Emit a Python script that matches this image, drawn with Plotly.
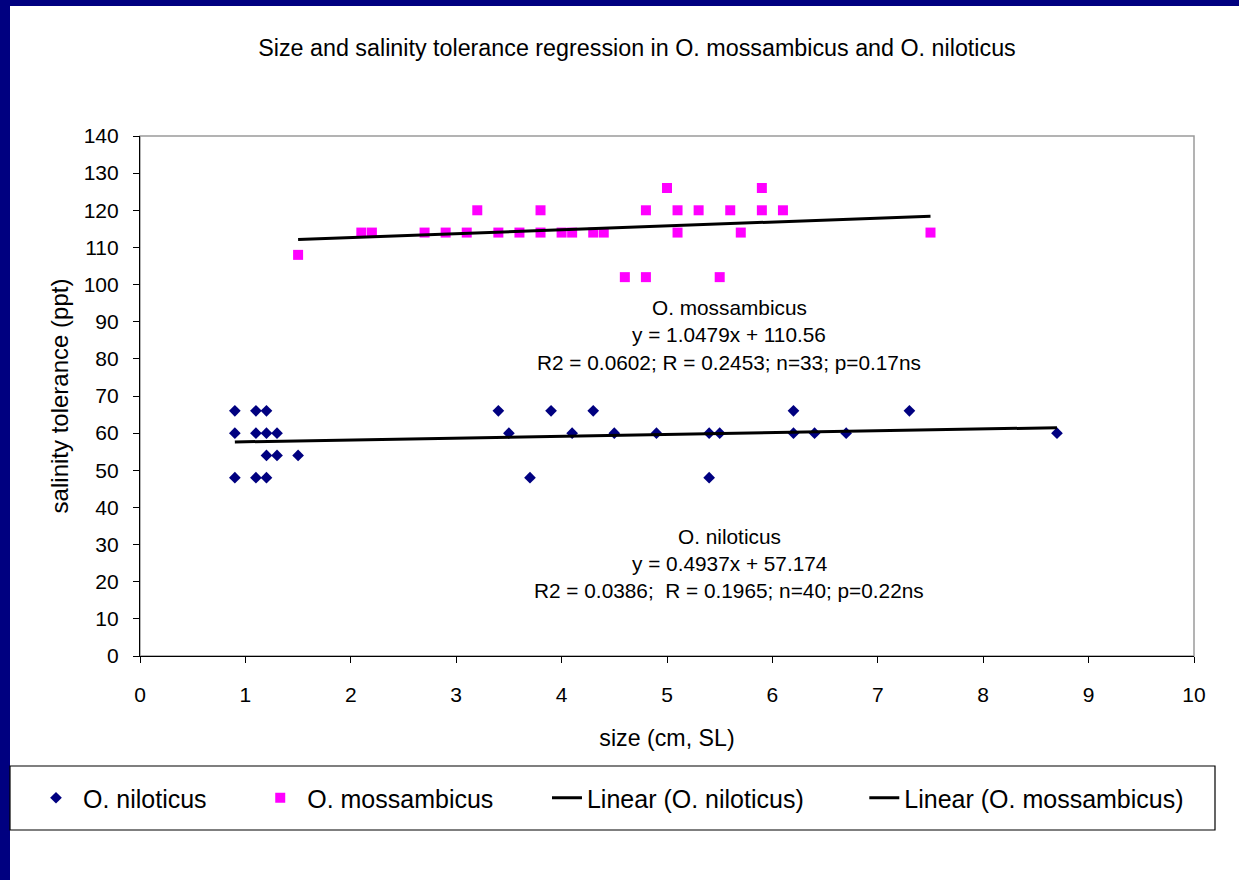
import numpy as np
import plotly.graph_objects as go

# ---------------- data ----------------
nil_size = [0.9, 0.9, 0.9, 1.1, 1.1, 1.1, 1.2, 1.2, 1.2, 1.2, 1.3, 1.3, 1.5,
            3.4, 3.5, 3.7, 3.9, 4.1, 4.3, 4.5, 4.9, 5.4, 5.4, 5.5,
            6.2, 6.2, 6.4, 6.7, 7.3, 8.7]
nil_sal = [66, 60, 48, 66, 60, 48, 66, 60, 54, 48, 60, 54, 54,
           66, 60, 48, 66, 60, 66, 60, 60, 60, 48, 60,
           66, 60, 60, 60, 66, 60]

moz_size = [1.5, 2.1, 2.2, 2.7, 2.9, 3.1, 3.2, 3.4, 3.6, 3.8, 3.8, 4.0, 4.1,
            4.3, 4.4, 4.6, 4.8, 4.8, 5.0, 5.1, 5.1, 5.3, 5.5, 5.6, 5.7,
            5.9, 5.9, 6.1, 7.5]
moz_sal = [108, 114, 114, 114, 114, 114, 120, 114, 114, 114, 120, 114, 114,
           114, 114, 102, 120, 102, 126, 120, 114, 120, 102, 120, 114,
           126, 120, 120, 114]

nil_slope, nil_intercept = 0.4937, 57.174
moz_slope, moz_intercept = 1.0479, 110.56

series_names = ["O. niloticus", "O. mossambicus",
                "Linear (O. niloticus)", "Linear (O. mossambicus)"]

moz_label = ["O. mossambicus", "y = 1.0479x + 110.56",
             "R2 = 0.0602; R = 0.2453; n=33; p=0.17ns"]
nil_label = ["O. niloticus", "y = 0.4937x + 57.174",
             "R2 = 0.0386;\u00a0\u00a0R = 0.1965; n=40; p=0.22ns"]

x_ticks = list(range(0, 11))
y_ticks = list(range(0, 141, 10))

# ---------------- layout helpers (pixel -> paper) ----------------
W, H = 1239, 880
L, R, T, B = 140, 1194, 136, 656
def xp(px):
    return (px - L) / (R - L)
def yp(py):
    return (B - py) / (B - T)

FONT = "Liberation Sans, Arial, sans-serif"
NAVY = "#000080"
NB = "\u00a0"

fig = go.Figure()

nx = np.array([min(nil_size), max(nil_size)])
mx = np.array([min(moz_size), max(moz_size)])

fig.add_trace(go.Scatter(x=nil_size, y=nil_sal, mode="markers",
                         name=NB + series_names[0] + NB * 7,
                         marker=dict(symbol="diamond", size=9, color=NAVY)))
fig.add_trace(go.Scatter(x=moz_size, y=moz_sal, mode="markers",
                         name=NB + series_names[1] + NB * 7,
                         marker=dict(symbol="square", size=10, color="#FF00FF")))
fig.add_trace(go.Scatter(x=nx, y=nil_slope * nx + nil_intercept, mode="lines",
                         name=series_names[2] + NB * 8, line=dict(color="black", width=3)))
fig.add_trace(go.Scatter(x=mx, y=moz_slope * mx + moz_intercept, mode="lines",
                         name=series_names[3], line=dict(color="black", width=3)))

shapes = [
    # plot-area frame (grey)
    dict(type="rect", xref="paper", yref="paper", x0=0, x1=1, y0=0, y1=1,
         line=dict(color="#9a9a9a", width=1.5), layer="below"),
    # navy slide border
    dict(type="rect", xref="paper", yref="paper", x0=xp(0), x1=xp(10), y0=yp(H), y1=yp(0),
         fillcolor=NAVY, line=dict(width=0)),
    dict(type="rect", xref="paper", yref="paper", x0=xp(0), x1=xp(W), y0=yp(6), y1=yp(0),
         fillcolor=NAVY, line=dict(width=0)),
    # legend box
    dict(type="rect", xref="paper", yref="paper", x0=xp(10), x1=xp(1215), y0=yp(830), y1=yp(766),
         line=dict(color="black", width=1.2)),
]

annotations = []
for i, t in enumerate(moz_label):
    annotations.append(dict(text=t, xref="paper", yref="paper", x=xp(729), y=yp(307 + 27.5 * i),
                            showarrow=False, xanchor="center", yanchor="middle",
                            font=dict(family=FONT, size=20.8, color="black")))
for i, t in enumerate(nil_label):
    annotations.append(dict(text=t, xref="paper", yref="paper", x=xp(729), y=yp(536 + 27 * i),
                            showarrow=False, xanchor="center", yanchor="middle",
                            font=dict(family=FONT, size=20.8, color="black")))

fig.update_layout(
    width=W, height=H,
    margin=dict(l=L, r=W - R, t=T, b=H - B, pad=0),
    paper_bgcolor="white", plot_bgcolor="rgba(0,0,0,0)",
    font=dict(family=FONT, color="black"),
    title=dict(text="Size and salinity tolerance regression in O. mossambicus and O. niloticus",
               xref="container", yref="container", x=637 / W, y=1 - 48 / H,
               xanchor="center", yanchor="middle",
               font=dict(family=FONT, size=23.3, color="black")),
    xaxis=dict(range=[0, 10], tickvals=x_ticks, showgrid=False, zeroline=False,
               showline=True, linecolor="black", linewidth=1.2,
               ticks="outside", ticklen=6, tickcolor="black", tickwidth=1.2,
               tickfont=dict(size=21), ticklabelstandoff=14,
               title=dict(text="size (cm, SL)", font=dict(size=23.2), standoff=24)),
    yaxis=dict(range=[0, 140], tickvals=y_ticks, showgrid=False, zeroline=False,
               showline=True, linecolor="black", linewidth=1.2,
               ticks="outside", ticklen=6, tickcolor="black", tickwidth=1.2,
               tickfont=dict(size=21), ticklabelstandoff=10,
               title=dict(text="salinity tolerance (ppt)", font=dict(size=24), standoff=8)),
    legend=dict(orientation="h", x=xp(36), y=yp(798), xanchor="left", yanchor="middle",
                bgcolor="rgba(0,0,0,0)", borderwidth=0,
                font=dict(family=FONT, size=25, color="black")),
    shapes=shapes,
    annotations=annotations,
)

fig.write_html("out.html")
